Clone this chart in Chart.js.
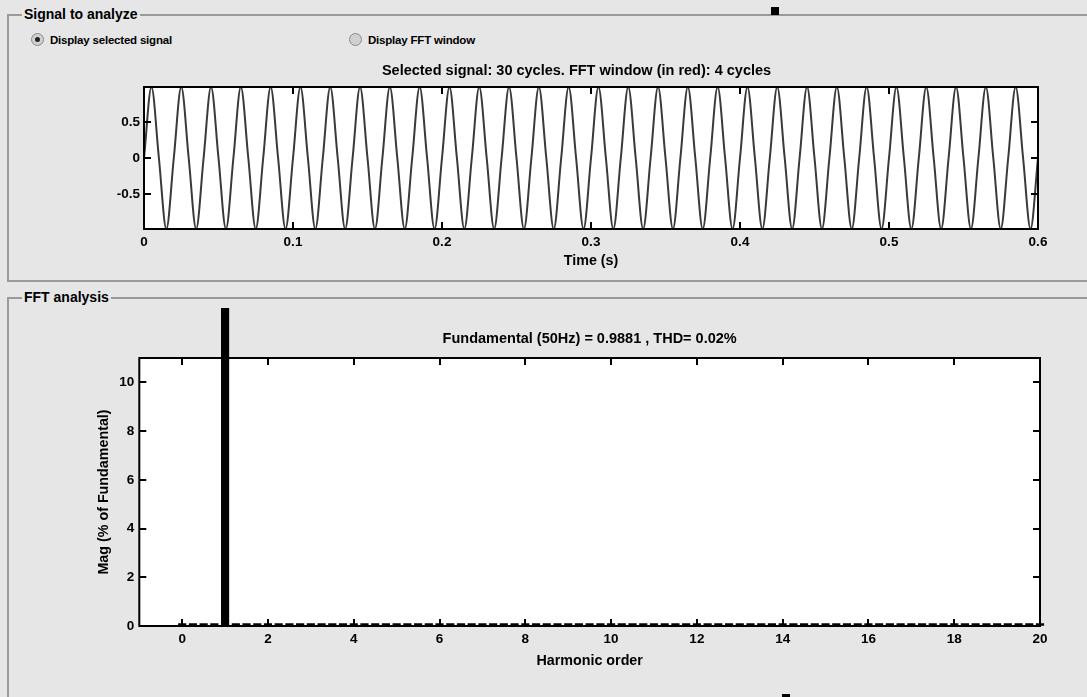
<!DOCTYPE html>
<html>
<head>
<meta charset="utf-8">
<script src="https://cdn.jsdelivr.net/npm/chart.js@4"></script>
<style>
  body { margin: 0; background: #e6e6e6; font-family: 'Liberation Sans', Arial, sans-serif; }
  #page { position: relative; width: 1087px; height: 697px; overflow: hidden; background: #e6e6e6; }
  .panel { position: absolute; border: 2px solid #9a9a9a; border-right: none; }
  .panel-label { position: absolute; top: -10px; left: 13px; padding: 0 2px; background: #e6e6e6; color: #000; font-size: 14px; font-weight: bold; line-height: 17px; }
  .radio { position: absolute; font-size: 11.5px; font-weight: bold; color: #000; line-height: 14px; letter-spacing: -0.2px; }
  .radio i { position: absolute; left: -19px; top: 0; width: 11px; height: 11px; border-radius: 50%; border: 1px solid #8a8a8a; background: #d0d0d0; }
  .radio i.on::after { content: ''; position: absolute; left: 3px; top: 3px; width: 5px; height: 5px; border-radius: 50%; background: #222; }
  .handle { position: absolute; background: #000; }
  canvas { position: absolute; left: 0; }
</style>
</head>
<body>
<div id="page">
  <div class="panel" style="left:7px; top:14px; width:1100px; height:264px;">
    <span class="panel-label">Signal to analyze</span>
  </div>
  <div class="panel" style="left:7px; top:297px; width:1100px; height:420px;">
    <span class="panel-label">FFT analysis</span>
  </div>
  <div class="radio" style="left:50px; top:33px;"><i class="on"></i>Display selected signal</div>
  <div class="radio" style="left:368px; top:33px;"><i></i>Display FFT window</div>
  <div class="handle" style="left:771px; top:7px; width:8px; height:8px;"></div>
  <div class="handle" style="left:782px; top:694px; width:8px; height:6px;"></div>
  <canvas id="signalChart" style="top:60px;" width="1087" height="210"></canvas>
  <canvas id="fftChart" style="top:300px;" width="1087" height="397"></canvas>
</div>
<script>
// time axis of the selected signal (s), quarter-cycle samples
const signalTime = [
  0, 0.005, 0.01, 0.015, 0.02, 0.025, 0.03, 0.035, 0.04, 0.045, 0.05, 0.055, 0.06, 0.065, 0.07, 0.075, 0.08, 0.085, 0.09, 0.095,
  0.1, 0.105, 0.11, 0.115, 0.12, 0.125, 0.13, 0.135, 0.14, 0.145, 0.15, 0.155, 0.16, 0.165, 0.17, 0.175, 0.18, 0.185, 0.19, 0.195,
  0.2, 0.205, 0.21, 0.215, 0.22, 0.225, 0.23, 0.235, 0.24, 0.245, 0.25, 0.255, 0.26, 0.265, 0.27, 0.275, 0.28, 0.285, 0.29, 0.295,
  0.3, 0.305, 0.31, 0.315, 0.32, 0.325, 0.33, 0.335, 0.34, 0.345, 0.35, 0.355, 0.36, 0.365, 0.37, 0.375, 0.38, 0.385, 0.39, 0.395,
  0.4, 0.405, 0.41, 0.415, 0.42, 0.425, 0.43, 0.435, 0.44, 0.445, 0.45, 0.455, 0.46, 0.465, 0.47, 0.475, 0.48, 0.485, 0.49, 0.495,
  0.5, 0.505, 0.51, 0.515, 0.52, 0.525, 0.53, 0.535, 0.54, 0.545, 0.55, 0.555, 0.56, 0.565, 0.57, 0.575, 0.58, 0.585, 0.59, 0.595,
  0.6
];
const signalValue = [
  0, 0.9881, 0, -0.9881, 0, 0.9881, 0, -0.9881, 0, 0.9881, 0, -0.9881, 0, 0.9881, 0, -0.9881, 0, 0.9881, 0, -0.9881,
  0, 0.9881, 0, -0.9881, 0, 0.9881, 0, -0.9881, 0, 0.9881, 0, -0.9881, 0, 0.9881, 0, -0.9881, 0, 0.9881, 0, -0.9881,
  0, 0.9881, 0, -0.9881, 0, 0.9881, 0, -0.9881, 0, 0.9881, 0, -0.9881, 0, 0.9881, 0, -0.9881, 0, 0.9881, 0, -0.9881,
  0, 0.9881, 0, -0.9881, 0, 0.9881, 0, -0.9881, 0, 0.9881, 0, -0.9881, 0, 0.9881, 0, -0.9881, 0, 0.9881, 0, -0.9881,
  0, 0.9881, 0, -0.9881, 0, 0.9881, 0, -0.9881, 0, 0.9881, 0, -0.9881, 0, 0.9881, 0, -0.9881, 0, 0.9881, 0, -0.9881,
  0, 0.9881, 0, -0.9881, 0, 0.9881, 0, -0.9881, 0, 0.9881, 0, -0.9881, 0, 0.9881, 0, -0.9881, 0, 0.9881, 0, -0.9881,
  0
];
const timeTicks = [0, 0.1, 0.2, 0.3, 0.4, 0.5, 0.6];
const signalTicks = [-0.5, 0, 0.5];

// FFT bins, 12.5 Hz resolution = 0.25 harmonic order
const harmonicOrder = [
  0, 0.25, 0.5, 0.75, 1, 1.25, 1.5, 1.75, 2, 2.25, 2.5, 2.75, 3, 3.25, 3.5, 3.75, 4, 4.25, 4.5, 4.75,
  5, 5.25, 5.5, 5.75, 6, 6.25, 6.5, 6.75, 7, 7.25, 7.5, 7.75, 8, 8.25, 8.5, 8.75, 9, 9.25, 9.5, 9.75,
  10, 10.25, 10.5, 10.75, 11, 11.25, 11.5, 11.75, 12, 12.25, 12.5, 12.75, 13, 13.25, 13.5, 13.75, 14, 14.25, 14.5, 14.75,
  15, 15.25, 15.5, 15.75, 16, 16.25, 16.5, 16.75, 17, 17.25, 17.5, 17.75, 18, 18.25, 18.5, 18.75, 19, 19.25, 19.5, 19.75,
  20
];
const harmonicMag = [
  0.1, 0.1, 0.1, 0.1, 100, 0.1, 0.1, 0.1, 0.1, 0.1, 0.1, 0.1, 0.1, 0.1, 0.1, 0.1, 0.1, 0.1, 0.1, 0.1,
  0.1, 0.1, 0.1, 0.1, 0.1, 0.1, 0.1, 0.1, 0.1, 0.1, 0.1, 0.1, 0.1, 0.1, 0.1, 0.1, 0.1, 0.1, 0.1, 0.1,
  0.1, 0.1, 0.1, 0.1, 0.1, 0.1, 0.1, 0.1, 0.1, 0.1, 0.1, 0.1, 0.1, 0.1, 0.1, 0.1, 0.1, 0.1, 0.1, 0.1,
  0.1, 0.1, 0.1, 0.1, 0.1, 0.1, 0.1, 0.1, 0.1, 0.1, 0.1, 0.1, 0.1, 0.1, 0.1, 0.1, 0.1, 0.1, 0.1, 0.1,
  0.1
];
const harmonicTicks = [0, 2, 4, 6, 8, 10, 12, 14, 16, 18, 20];
const magTicks = [0, 2, 4, 6, 8, 10];

const FONT = "'Liberation Sans', Arial, sans-serif";

// white plot box, black frame and inward ticks on all four sides, MATLAB style
const matlabAxes = {
    id: 'matlabAxes',
    beforeDraw(chart) {
        const { ctx, chartArea: a } = chart;
        ctx.save();
        ctx.fillStyle = '#fff';
        ctx.fillRect(a.left, a.top, a.right - a.left, a.bottom - a.top);
        ctx.restore();
    },
    afterDraw(chart) {
        const { ctx, chartArea: a, scales } = chart;
        const len = 7;
        ctx.save();
        ctx.strokeStyle = '#000';
        ctx.lineWidth = 2;
        ctx.beginPath();
        scales.x.ticks.forEach(t => {
            const px = Math.round(scales.x.getPixelForValue(t.value));
            ctx.moveTo(px, a.bottom); ctx.lineTo(px, a.bottom - len);
            ctx.moveTo(px, a.top); ctx.lineTo(px, a.top + len);
        });
        scales.y.ticks.forEach(t => {
            const py = Math.round(scales.y.getPixelForValue(t.value));
            ctx.moveTo(a.left, py); ctx.lineTo(a.left + len, py);
            ctx.moveTo(a.right, py); ctx.lineTo(a.right - len, py);
        });
        ctx.stroke();
        ctx.strokeRect(a.left, a.top, a.right - a.left, a.bottom - a.top);
        ctx.restore();
    }
};

function fixedTicks(values) {
    return scale => { scale.ticks = values.map(v => ({ value: v })); };
}

function tickFont() {
    return { family: FONT, size: 13.5, weight: 'bold' };
}

function labelFont() {
    return { family: FONT, size: 14.3, weight: 'bold' };
}

function createSignalChart(ctx) {
    return new Chart(ctx, {
        type: 'line',
        data: {
            datasets: [{
                data: signalTime.map((t, i) => ({ x: t, y: signalValue[i] })),
                borderColor: '#3a3a3a',
                borderWidth: 2,
                pointRadius: 0,
                cubicInterpolationMode: 'monotone'
            }]
        },
        options: {
            responsive: false,
            animation: false,
            layout: { padding: { left: 115, right: 49, top: 0, bottom: 0 } },
            plugins: {
                legend: { display: false },
                tooltip: { enabled: false },
                title: {
                    display: true,
                    text: 'Selected signal: 30 cycles. FFT window (in red): 4 cycles',
                    color: '#000',
                    font: { family: FONT, size: 14.5, weight: 'bold' },
                    padding: { top: 2.3, bottom: 7.3 }
                }
            },
            scales: {
                x: {
                    type: 'linear',
                    min: 0,
                    max: 0.6,
                    afterBuildTicks: fixedTicks(timeTicks),
                    afterFit: scale => { scale.height = 41; },
                    grid: { display: true, drawOnChartArea: false, drawTicks: false },
                    border: { display: false },
                    ticks: { color: '#000', font: tickFont(), padding: 5, maxRotation: 0, autoSkip: false, callback: v => String(v) },
                    title: { display: true, text: 'Time (s)', color: '#000', font: labelFont(), padding: { top: 0, bottom: 0.6 } }
                },
                y: {
                    min: -0.9881,
                    max: 0.9881,
                    afterBuildTicks: fixedTicks(signalTicks),
                    afterFit: scale => { scale.width = 29; },
                    grid: { display: true, drawOnChartArea: false, drawTicks: false },
                    border: { display: false },
                    ticks: { color: '#000', font: tickFont(), padding: 4, callback: v => String(v) }
                }
            }
        },
        plugins: [matlabAxes]
    });
}

function createFftChart(ctx) {
    return new Chart(ctx, {
        type: 'bar',
        data: {
            datasets: [{
                data: harmonicOrder.map((h, i) => ({ x: h, y: harmonicMag[i] })),
                backgroundColor: '#000',
                borderWidth: 0,
                barThickness: 7.5,
                grouped: false,
                clip: { left: 5, top: 50, right: 5, bottom: 2 }
            }]
        },
        options: {
            responsive: false,
            animation: false,
            layout: { padding: { left: 90, right: 47, top: 0, bottom: 26 } },
            plugins: {
                legend: { display: false },
                tooltip: { enabled: false },
                title: {
                    display: true,
                    fullSize: false,
                    text: 'Fundamental (50Hz) = 0.9881 , THD= 0.02%',
                    color: '#000',
                    font: { family: FONT, size: 14.5, weight: 'bold' },
                    padding: { top: 30.3, bottom: 10.3 }
                }
            },
            scales: {
                x: {
                    type: 'linear',
                    min: -1,
                    max: 20,
                    offset: false,
                    afterBuildTicks: fixedTicks(harmonicTicks),
                    afterFit: scale => { scale.height = 45; },
                    grid: { display: true, drawOnChartArea: false, drawTicks: false },
                    border: { display: false },
                    ticks: { color: '#000', font: tickFont(), padding: 5, maxRotation: 0, autoSkip: false, callback: v => String(v) },
                    title: { display: true, text: 'Harmonic order', color: '#000', font: labelFont(), padding: { top: 0, bottom: 1.6 } }
                },
                y: {
                    min: 0,
                    max: 11,
                    afterBuildTicks: fixedTicks(magTicks),
                    afterFit: scale => { scale.width = 49.3; },
                    grid: { display: true, drawOnChartArea: false, drawTicks: false },
                    border: { display: false },
                    ticks: { color: '#000', font: tickFont(), padding: 5, callback: v => String(v) },
                    title: { display: true, text: 'Mag (% of Fundamental)', color: '#000', font: labelFont(), padding: { top: 5.6, bottom: 0 } }
                }
            }
        },
        plugins: [matlabAxes]
    });
}

createSignalChart(document.getElementById('signalChart').getContext('2d'));
createFftChart(document.getElementById('fftChart').getContext('2d'));
</script>
</body>
</html>
